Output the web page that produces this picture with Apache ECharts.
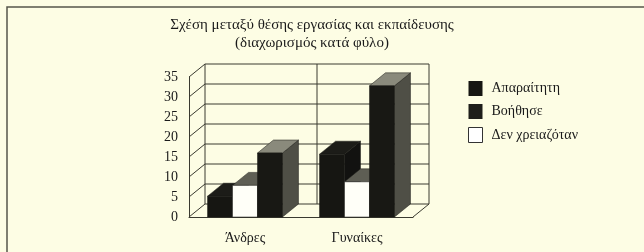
<!DOCTYPE html>
<html>
<head>
<meta charset="utf-8">
<script src="https://cdn.jsdelivr.net/npm/echarts@6/dist/echarts.min.js"></script>
<style>
  html, body { margin: 0; padding: 0; background: #fdfde4; }
  #chart { width: 644px; height: 252px; }
</style>
</head>
<body>
<div id="chart"></div>
<script>
// data
const categories = ["Άνδρες", "Γυναίκες"];
const yTicks = [0, 5, 10, 15, 20, 25, 30, 35];
const needed = [5.2, 15.7];      // Απαραίτητη
const notNeeded = [7.9, 8.8];    // Δεν χρειαζόταν
const helped = [16, 32.8];       // Βοήθησε
const legendNames = ["Απαραίτητη", "Βοήθησε", "Δεν χρειαζόταν"];

// 3d look
const DX = 16;
const DY = -13;
const BAR_RATIO = 0.223;
const FONT = "Liberation Serif";
const LINE = "#3a3a30";

const chart = echarts.init(document.getElementById("chart"));

function frameRender(params, api) {
  const v = api.value(1);
  const band = api.size([1, 0])[0];
  const p = api.coord([0, v]);
  const xl = p[0] - band / 2;
  const xr = xl + band * categories.length;
  const y = p[1];
  const style = { stroke: LINE, lineWidth: 1 };
  const children = [
    // back wall gridline
    { type: "line", shape: { x1: xl + DX, y1: y + DY, x2: xr + DX, y2: y + DY }, style: style },
    // left wall diagonal
    { type: "line", shape: { x1: xl, y1: y, x2: xl + DX, y2: y + DY }, style: style },
  ];
  if (params.dataIndex === 0) {
    const yTop = api.coord([0, yTicks[yTicks.length - 1]])[1];
    children.push({ type: "line", shape: { x1: xr, y1: y, x2: xr + DX, y2: y + DY }, style: style });
    for (let i = 0; i <= categories.length; i++) {
      const x = xl + band * i + DX;
      children.push({ type: "line", shape: { x1: x, y1: y + DY, x2: x, y2: yTop + DY }, style: style });
    }
  }
  return { type: "group", children: children };
}

function barRender(slot, colors) {
  return function (params, api) {
    const cat = api.value(0);
    const base = api.coord([cat, 0]);
    const top = api.coord([cat, api.value(1)]);
    const w = api.size([1, 0])[0] * BAR_RATIO;
    const x0 = base[0] + slot * w - w / 2;
    const x1 = x0 + w;
    const yb = base[1];
    const yt = top[1];
    return {
      type: "group",
      children: [
        { type: "polygon", shape: { points: [[x1, yb], [x1 + DX, yb + DY], [x1 + DX, yt + DY], [x1, yt]] },
          style: { fill: colors.side, stroke: "#1a1a16", lineWidth: 0.5 } },
        { type: "polygon", shape: { points: [[x0, yt], [x1, yt], [x1 + DX, yt + DY], [x0 + DX, yt + DY]] },
          style: { fill: colors.top, stroke: "#1a1a16", lineWidth: 0.5 } },
        { type: "rect", shape: { x: x0, y: yt, width: w, height: yb - yt },
          style: { fill: colors.front, stroke: "#1a1a16", lineWidth: 0.5 } },
      ],
    };
  };
}

function barSeries(name, values, slot, colors) {
  return {
    name: name,
    type: "custom",
    z: 3,
    clip: false,
    itemStyle: { color: colors.front },
    renderItem: barRender(slot, colors),
    data: values.map((v, i) => [i, v]),
  };
}

const option = {
  backgroundColor: "#fdfde4",
  animation: false,
  title: {
    text: "Σχέση μεταξύ θέσης εργασίας και εκπαίδευσης\n(διαχωρισμός κατά φύλο)",
    left: 312,
    top: 16,
    padding: 0,
    textAlign: "center",
    textStyle: { fontFamily: FONT, fontSize: 15, fontWeight: "normal", color: "#1a1a1a", lineHeight: 18 },
  },
  graphic: [
    { type: "rect", shape: { x: 7, y: 7, width: 700, height: 300 },
      style: { fill: null, stroke: "#55554a", lineWidth: 1.5 }, silent: true },
  ],
  legend: {
    orient: "vertical",
    left: 463,
    top: 76,
    itemWidth: 14,
    itemHeight: 15,
    itemGap: 8,
    selectedMode: false,
    icon: "rect",
    textStyle: { fontFamily: FONT, fontSize: 14, color: "#1a1a1a", padding: [0, 0, 0, 4] },
    data: [
      { name: legendNames[0], itemStyle: { color: "#161612" } },
      { name: legendNames[1], itemStyle: { color: "#1e1e1a" } },
      { name: legendNames[2], itemStyle: { color: "#ffffff", borderColor: "#333", borderWidth: 1 } },
    ],
  },
  grid: { left: 189, top: 77, width: 224, height: 140 },
  xAxis: {
    type: "category",
    data: categories,
    axisLine: { lineStyle: { color: LINE, width: 1 } },
    axisTick: { show: false },
    axisLabel: { fontFamily: FONT, fontSize: 14, color: "#1a1a1a", margin: 14 },
    splitLine: { show: false },
  },
  yAxis: {
    type: "value",
    min: yTicks[0],
    max: yTicks[yTicks.length - 1],
    interval: yTicks[1] - yTicks[0],
    axisLine: { show: true, lineStyle: { color: LINE, width: 1 } },
    axisTick: { show: false },
    axisLabel: { fontFamily: FONT, fontSize: 14, color: "#1a1a1a", margin: 11 },
    splitLine: { show: false },
  },
  series: [
    {
      name: "frame",
      type: "custom",
      z: 1,
      clip: false,
      silent: true,
      renderItem: frameRender,
      data: yTicks.map((v) => [0, v]),
    },
    barSeries(legendNames[0], needed, -1, { front: "#161612", top: "#1c1c18", side: "#121210" }),
    barSeries(legendNames[2], notNeeded, 0, { front: "#fffff8", top: "#5e5e54", side: "#3a3a33" }),
    barSeries(legendNames[1], helped, 1, { front: "#181814", top: "#8a8a7c", side: "#4f4f46" }),
  ],
};

chart.setOption(option);
</script>
</body>
</html>
